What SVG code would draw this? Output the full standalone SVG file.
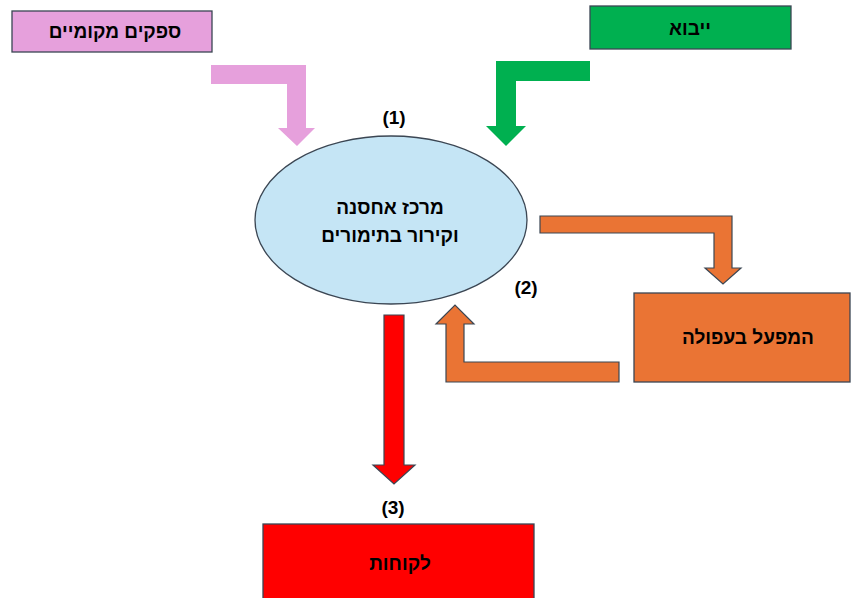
<svg xmlns="http://www.w3.org/2000/svg" width="851" height="598" viewBox="0 0 851 598">
<style>
  .lbl { font-family: "Liberation Sans", "DejaVu Sans", sans-serif; font-weight: bold; font-size: 19px; fill: #000; text-anchor: middle; }
  .num { font-family: "Liberation Sans", "DejaVu Sans", sans-serif; font-weight: bold; font-size: 19px; fill: #000; text-anchor: middle; }
  .box { stroke: #3b4653; stroke-width: 1.3; }
  .arr { stroke: #3b4653; stroke-width: 1.2; stroke-linejoin: miter; }
</style>
<rect width="851" height="598" fill="#ffffff"/>

<g id="connectors">
  <polygon id="arrow-local" fill="#e6a0dc" points="211,65 306,65 306,128 315,128 297,146 278,128 287,128 287,84 211,84"/>
  <polygon id="arrow-import" fill="#00b050" points="590,61 496,61 496,126 486,126 506,146 526,126 516,126 516,81 590,81"/>
  <polygon id="arrow-to-factory" class="arr" fill="#ea7434" points="540,216 732,216 732,268 741,268 723,284 705,268 714,268 714,233 540,233"/>
  <polygon id="arrow-from-factory" class="arr" fill="#ea7434" points="619,362 619,382 446,382 446,324 436,324 455,305 474,324 464,324 464,362"/>
  <polygon id="arrow-customers" class="arr" fill="#ff0000" points="384,315 404,315 404,465 415,465 394,484 373,465 384,465"/>
</g>

<g id="node-local-suppliers">
  <rect class="box" x="12" y="11" width="200" height="41" fill="#e6a0dc"/>
  <text class="lbl" x="115" y="38">ספקים מקומיים</text>
</g>

<g id="node-import">
  <rect class="box" x="590" y="6" width="201" height="43" fill="#00b050"/>
  <text class="lbl" x="690" y="35">ייבוא</text>
</g>

<g id="node-center">
  <ellipse class="box" cx="391" cy="220" rx="136" ry="84" fill="#c5e5f5"/>
  <text class="lbl" x="390" y="214">מרכז אחסנה</text>
  <text class="lbl" x="390" y="242">וקירור בתימורים</text>
</g>

<g id="node-factory">
  <rect class="box" x="634" y="293" width="216" height="89" fill="#ea7434"/>
  <text class="lbl" x="748" y="344">המפעל בעפולה</text>
</g>

<g id="node-customers">
  <rect class="box" x="263" y="524" width="271" height="80" fill="#ff0000"/>
  <text class="lbl" x="400" y="570">לקוחות</text>
</g>

<g id="labels">
  <text class="num" x="394" y="124">(1)</text>
  <text class="num" x="526" y="294">(2)</text>
  <text class="num" x="393" y="514">(3)</text>
</g>
</svg>
